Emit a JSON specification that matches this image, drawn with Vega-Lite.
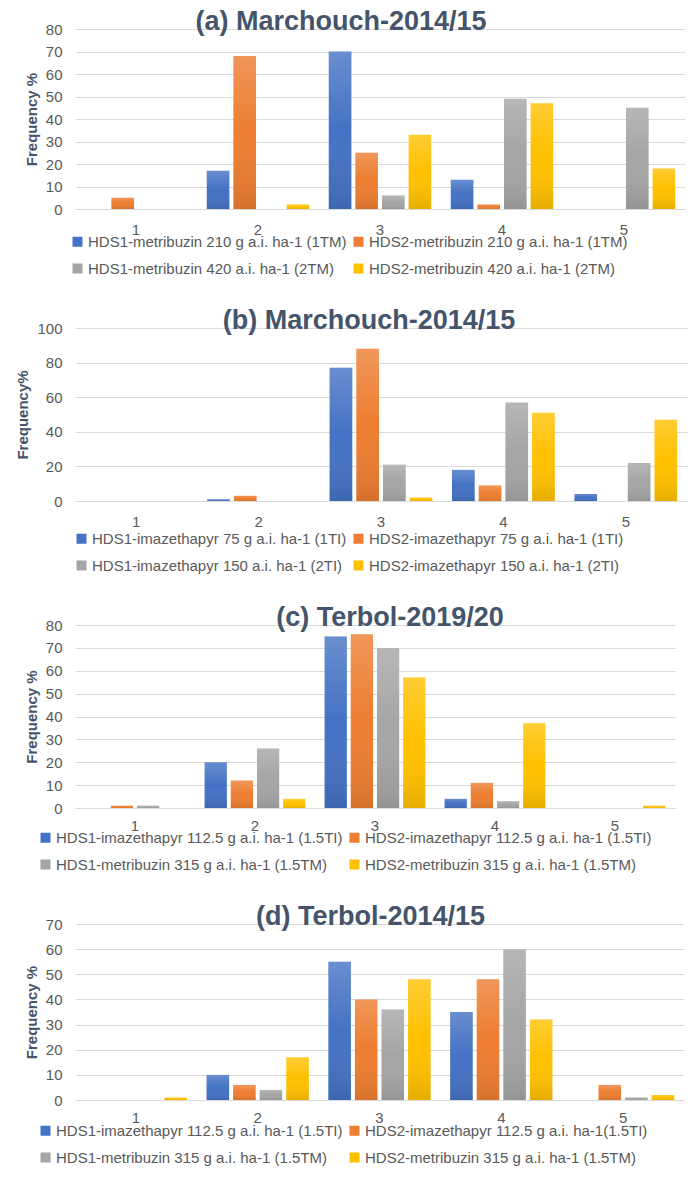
{
  "$schema": "https://vega.github.io/schema/vega-lite/v6.json",
  "background": "white",
  "padding": {"left": 15, "top": 8, "right": 5, "bottom": 5},
  "columns": 1,
  "align": "none",
  "spacing": 30,
  "config": {
    "font": "Liberation Sans",
    "view": {"stroke": null},
    "axis": {
      "labelFont": "Liberation Sans", "labelFontSize": 15, "labelColor": "#595959",
      "ticks": false, "domain": false, "gridColor": "#D9D9D9", "gridWidth": 1,
      "titleFont": "Liberation Sans", "titleFontSize": 15, "titleFontWeight": "bold", "titleColor": "#44546A"
    },
    "axisX": {"grid": false, "domain": true, "domainColor": "#D9D9D9", "labelPadding": 13, "labelAngle": 0, "title": null},
    "axisY": {"labelPadding": 13, "titlePadding": 6},
    "legend": {
      "orient": "none", "direction": "horizontal", "columns": 2, "symbolType": "square", "symbolSize": 100, "symbolStrokeWidth": 0,
      "labelFont": "Liberation Sans", "labelFontSize": 15, "labelColor": "#595959", "labelLimit": 600,
      "columnPadding": 4, "rowPadding": 11, "labelOffset": 3
    },
    "title": {"font": "Liberation Sans", "fontSize": 27, "fontWeight": "bold", "color": "#44546A", "anchor": "middle", "offset": -14}
  },
  "resolve": {
    "scale": {"x": "independent", "y": "independent", "color": "independent", "xOffset": "independent"},
    "legend": {"color": "independent"}
  },
  "datasets": {
    "a": [
      {"cat": "1", "series": "HDS1-metribuzin 210 g a.i. ha-1 (1TM)", "value": 0},
      {"cat": "1", "series": "HDS2-metribuzin 210 g a.i. ha-1 (1TM)", "value": 5},
      {"cat": "1", "series": "HDS1-metribuzin 420  a.i. ha-1 (2TM)", "value": 0},
      {"cat": "1", "series": "HDS2-metribuzin 420  a.i. ha-1 (2TM)", "value": 0},
      {"cat": "2", "series": "HDS1-metribuzin 210 g a.i. ha-1 (1TM)", "value": 17},
      {"cat": "2", "series": "HDS2-metribuzin 210 g a.i. ha-1 (1TM)", "value": 68},
      {"cat": "2", "series": "HDS1-metribuzin 420  a.i. ha-1 (2TM)", "value": 0},
      {"cat": "2", "series": "HDS2-metribuzin 420  a.i. ha-1 (2TM)", "value": 2},
      {"cat": "3", "series": "HDS1-metribuzin 210 g a.i. ha-1 (1TM)", "value": 70},
      {"cat": "3", "series": "HDS2-metribuzin 210 g a.i. ha-1 (1TM)", "value": 25},
      {"cat": "3", "series": "HDS1-metribuzin 420  a.i. ha-1 (2TM)", "value": 6},
      {"cat": "3", "series": "HDS2-metribuzin 420  a.i. ha-1 (2TM)", "value": 33},
      {"cat": "4", "series": "HDS1-metribuzin 210 g a.i. ha-1 (1TM)", "value": 13},
      {"cat": "4", "series": "HDS2-metribuzin 210 g a.i. ha-1 (1TM)", "value": 2},
      {"cat": "4", "series": "HDS1-metribuzin 420  a.i. ha-1 (2TM)", "value": 49},
      {"cat": "4", "series": "HDS2-metribuzin 420  a.i. ha-1 (2TM)", "value": 47},
      {"cat": "5", "series": "HDS1-metribuzin 210 g a.i. ha-1 (1TM)", "value": 0},
      {"cat": "5", "series": "HDS2-metribuzin 210 g a.i. ha-1 (1TM)", "value": 0},
      {"cat": "5", "series": "HDS1-metribuzin 420  a.i. ha-1 (2TM)", "value": 45},
      {"cat": "5", "series": "HDS2-metribuzin 420  a.i. ha-1 (2TM)", "value": 18}
    ],
    "b": [
      {"cat": "1", "series": "HDS1-imazethapyr 75 g a.i. ha-1 (1TI)", "value": 0},
      {"cat": "1", "series": "HDS2-imazethapyr 75 g a.i. ha-1 (1TI)", "value": 0},
      {"cat": "1", "series": "HDS1-imazethapyr 150  a.i. ha-1 (2TI)", "value": 0},
      {"cat": "1", "series": "HDS2-imazethapyr 150  a.i. ha-1 (2TI)", "value": 0},
      {"cat": "2", "series": "HDS1-imazethapyr 75 g a.i. ha-1 (1TI)", "value": 1},
      {"cat": "2", "series": "HDS2-imazethapyr 75 g a.i. ha-1 (1TI)", "value": 3},
      {"cat": "2", "series": "HDS1-imazethapyr 150  a.i. ha-1 (2TI)", "value": 0},
      {"cat": "2", "series": "HDS2-imazethapyr 150  a.i. ha-1 (2TI)", "value": 0},
      {"cat": "3", "series": "HDS1-imazethapyr 75 g a.i. ha-1 (1TI)", "value": 77},
      {"cat": "3", "series": "HDS2-imazethapyr 75 g a.i. ha-1 (1TI)", "value": 88},
      {"cat": "3", "series": "HDS1-imazethapyr 150  a.i. ha-1 (2TI)", "value": 21},
      {"cat": "3", "series": "HDS2-imazethapyr 150  a.i. ha-1 (2TI)", "value": 2},
      {"cat": "4", "series": "HDS1-imazethapyr 75 g a.i. ha-1 (1TI)", "value": 18},
      {"cat": "4", "series": "HDS2-imazethapyr 75 g a.i. ha-1 (1TI)", "value": 9},
      {"cat": "4", "series": "HDS1-imazethapyr 150  a.i. ha-1 (2TI)", "value": 57},
      {"cat": "4", "series": "HDS2-imazethapyr 150  a.i. ha-1 (2TI)", "value": 51},
      {"cat": "5", "series": "HDS1-imazethapyr 75 g a.i. ha-1 (1TI)", "value": 4},
      {"cat": "5", "series": "HDS2-imazethapyr 75 g a.i. ha-1 (1TI)", "value": 0},
      {"cat": "5", "series": "HDS1-imazethapyr 150  a.i. ha-1 (2TI)", "value": 22},
      {"cat": "5", "series": "HDS2-imazethapyr 150  a.i. ha-1 (2TI)", "value": 47}
    ],
    "c": [
      {"cat": "1", "series": "HDS1-imazethapyr 112.5 g a.i. ha-1 (1.5TI)", "value": 0},
      {"cat": "1", "series": "HDS2-imazethapyr 112.5 g a.i. ha-1 (1.5TI)", "value": 1},
      {"cat": "1", "series": "HDS1-metribuzin 315 g a.i. ha-1 (1.5TM)", "value": 1},
      {"cat": "1", "series": "HDS2-metribuzin 315 g a.i. ha-1 (1.5TM)", "value": 0},
      {"cat": "2", "series": "HDS1-imazethapyr 112.5 g a.i. ha-1 (1.5TI)", "value": 20},
      {"cat": "2", "series": "HDS2-imazethapyr 112.5 g a.i. ha-1 (1.5TI)", "value": 12},
      {"cat": "2", "series": "HDS1-metribuzin 315 g a.i. ha-1 (1.5TM)", "value": 26},
      {"cat": "2", "series": "HDS2-metribuzin 315 g a.i. ha-1 (1.5TM)", "value": 4},
      {"cat": "3", "series": "HDS1-imazethapyr 112.5 g a.i. ha-1 (1.5TI)", "value": 75},
      {"cat": "3", "series": "HDS2-imazethapyr 112.5 g a.i. ha-1 (1.5TI)", "value": 76},
      {"cat": "3", "series": "HDS1-metribuzin 315 g a.i. ha-1 (1.5TM)", "value": 70},
      {"cat": "3", "series": "HDS2-metribuzin 315 g a.i. ha-1 (1.5TM)", "value": 57},
      {"cat": "4", "series": "HDS1-imazethapyr 112.5 g a.i. ha-1 (1.5TI)", "value": 4},
      {"cat": "4", "series": "HDS2-imazethapyr 112.5 g a.i. ha-1 (1.5TI)", "value": 11},
      {"cat": "4", "series": "HDS1-metribuzin 315 g a.i. ha-1 (1.5TM)", "value": 3},
      {"cat": "4", "series": "HDS2-metribuzin 315 g a.i. ha-1 (1.5TM)", "value": 37},
      {"cat": "5", "series": "HDS1-imazethapyr 112.5 g a.i. ha-1 (1.5TI)", "value": 0},
      {"cat": "5", "series": "HDS2-imazethapyr 112.5 g a.i. ha-1 (1.5TI)", "value": 0},
      {"cat": "5", "series": "HDS1-metribuzin 315 g a.i. ha-1 (1.5TM)", "value": 0},
      {"cat": "5", "series": "HDS2-metribuzin 315 g a.i. ha-1 (1.5TM)", "value": 1}
    ],
    "d": [
      {"cat": "1", "series": "HDS1-imazethapyr 112.5 g a.i. ha-1 (1.5TI)", "value": 0},
      {"cat": "1", "series": "HDS2-imazethapyr 112.5 g a.i. ha-1(1.5TI)", "value": 0},
      {"cat": "1", "series": "HDS1-metribuzin 315 g a.i. ha-1 (1.5TM)", "value": 0},
      {"cat": "1", "series": "HDS2-metribuzin 315 g a.i. ha-1 (1.5TM)", "value": 1},
      {"cat": "2", "series": "HDS1-imazethapyr 112.5 g a.i. ha-1 (1.5TI)", "value": 10},
      {"cat": "2", "series": "HDS2-imazethapyr 112.5 g a.i. ha-1(1.5TI)", "value": 6},
      {"cat": "2", "series": "HDS1-metribuzin 315 g a.i. ha-1 (1.5TM)", "value": 4},
      {"cat": "2", "series": "HDS2-metribuzin 315 g a.i. ha-1 (1.5TM)", "value": 17},
      {"cat": "3", "series": "HDS1-imazethapyr 112.5 g a.i. ha-1 (1.5TI)", "value": 55},
      {"cat": "3", "series": "HDS2-imazethapyr 112.5 g a.i. ha-1(1.5TI)", "value": 40},
      {"cat": "3", "series": "HDS1-metribuzin 315 g a.i. ha-1 (1.5TM)", "value": 36},
      {"cat": "3", "series": "HDS2-metribuzin 315 g a.i. ha-1 (1.5TM)", "value": 48},
      {"cat": "4", "series": "HDS1-imazethapyr 112.5 g a.i. ha-1 (1.5TI)", "value": 35},
      {"cat": "4", "series": "HDS2-imazethapyr 112.5 g a.i. ha-1(1.5TI)", "value": 48},
      {"cat": "4", "series": "HDS1-metribuzin 315 g a.i. ha-1 (1.5TM)", "value": 60},
      {"cat": "4", "series": "HDS2-metribuzin 315 g a.i. ha-1 (1.5TM)", "value": 32},
      {"cat": "5", "series": "HDS1-imazethapyr 112.5 g a.i. ha-1 (1.5TI)", "value": 0},
      {"cat": "5", "series": "HDS2-imazethapyr 112.5 g a.i. ha-1(1.5TI)", "value": 6},
      {"cat": "5", "series": "HDS1-metribuzin 315 g a.i. ha-1 (1.5TM)", "value": 1},
      {"cat": "5", "series": "HDS2-metribuzin 315 g a.i. ha-1 (1.5TM)", "value": 2}
    ]
  },
  "concat": [
    {
      "title": {"text": "(a) Marchouch-2014/15", "dx": -39},
      "width": 610, "height": 180,
      "data": {"name": "a"},
      "encoding": {
        "x": {"field": "cat", "type": "ordinal", "scale": {"paddingInner": 0.16, "paddingOuter": 0.08}},
        "xOffset": {"field": "series", "sort": null, "scale": {"paddingInner": 0.15, "paddingOuter": 0}},
        "y": {"field": "value", "type": "quantitative", "scale": {"domain": [0, 80], "nice": false},
              "axis": {"title": "Frequency %", "values": [0, 10, 20, 30, 40, 50, 60, 70, 80]}}
      },
      "layer": [
        {"mark": "bar",
         "encoding": {"color": {"field": "series", "type": "nominal", "sort": null,
           "scale": {"range": ["#4472C4", "#ED7D31", "#A5A5A5", "#FFC000"]},
           "legend": {"title": null, "legendX": -5, "legendY": 205}}}},
        {"mark": {"type": "bar", "fill": {"gradient": "linear", "x1": 0, "y1": 0, "x2": 0, "y2": 1,
          "stops": [{"offset": 0, "color": "rgba(255,255,255,0.2)"}, {"offset": 0.5, "color": "rgba(255,255,255,0)"}, {"offset": 1, "color": "rgba(0,0,0,0.1)"}]}}}
      ]
    },
    {
      "title": {"text": "(b) Marchouch-2014/15", "dx": -12},
      "width": 612, "height": 173,
      "data": {"name": "b"},
      "encoding": {
        "x": {"field": "cat", "type": "ordinal", "scale": {"paddingInner": 0.16, "paddingOuter": 0.08}},
        "xOffset": {"field": "series", "sort": null, "scale": {"paddingInner": 0.15, "paddingOuter": 0}},
        "y": {"field": "value", "type": "quantitative", "scale": {"domain": [0, 100], "nice": false},
              "axis": {"title": "Frequency%", "values": [0, 20, 40, 60, 80, 100]}}
      },
      "layer": [
        {"mark": "bar",
         "encoding": {"color": {"field": "series", "type": "nominal", "sort": null,
           "scale": {"range": ["#4472C4", "#ED7D31", "#A5A5A5", "#FFC000"]},
           "legend": {"title": null, "legendX": -1, "legendY": 203}}}},
        {"mark": {"type": "bar", "fill": {"gradient": "linear", "x1": 0, "y1": 0, "x2": 0, "y2": 1,
          "stops": [{"offset": 0, "color": "rgba(255,255,255,0.2)"}, {"offset": 0.5, "color": "rgba(255,255,255,0)"}, {"offset": 1, "color": "rgba(0,0,0,0.1)"}]}}}
      ]
    },
    {
      "title": {"text": "(c) Terbol-2019/20", "dx": 15},
      "width": 600, "height": 183,
      "data": {"name": "c"},
      "encoding": {
        "x": {"field": "cat", "type": "ordinal", "scale": {"paddingInner": 0.16, "paddingOuter": 0.08}, "axis": {"labelPadding": 10}},
        "xOffset": {"field": "series", "sort": null, "scale": {"paddingInner": 0.15, "paddingOuter": 0}},
        "y": {"field": "value", "type": "quantitative", "scale": {"domain": [0, 80], "nice": false},
              "axis": {"title": "Frequency %", "values": [0, 10, 20, 30, 40, 50, 60, 70, 80]}}
      },
      "layer": [
        {"mark": "bar",
         "encoding": {"color": {"field": "series", "type": "nominal", "sort": null,
           "scale": {"range": ["#4472C4", "#ED7D31", "#A5A5A5", "#FFC000"]},
           "legend": {"title": null, "legendX": -37, "legendY": 205}}}},
        {"mark": {"type": "bar", "fill": {"gradient": "linear", "x1": 0, "y1": 0, "x2": 0, "y2": 1,
          "stops": [{"offset": 0, "color": "rgba(255,255,255,0.2)"}, {"offset": 0.5, "color": "rgba(255,255,255,0)"}, {"offset": 1, "color": "rgba(0,0,0,0.1)"}]}}}
      ]
    },
    {
      "title": {"text": "(d) Terbol-2014/15", "dx": -9},
      "width": 609, "height": 176,
      "data": {"name": "d"},
      "encoding": {
        "x": {"field": "cat", "type": "ordinal", "scale": {"paddingInner": 0.16, "paddingOuter": 0.08}, "axis": {"labelPadding": 10}},
        "xOffset": {"field": "series", "sort": null, "scale": {"paddingInner": 0.15, "paddingOuter": 0}},
        "y": {"field": "value", "type": "quantitative", "scale": {"domain": [0, 70], "nice": false},
              "axis": {"title": "Frequency %", "values": [0, 10, 20, 30, 40, 50, 60, 70]}}
      },
      "layer": [
        {"mark": "bar",
         "encoding": {"color": {"field": "series", "type": "nominal", "sort": null,
           "scale": {"range": ["#4472C4", "#ED7D31", "#A5A5A5", "#FFC000"]},
           "legend": {"title": null, "legendX": -37, "legendY": 199}}}},
        {"mark": {"type": "bar", "fill": {"gradient": "linear", "x1": 0, "y1": 0, "x2": 0, "y2": 1,
          "stops": [{"offset": 0, "color": "rgba(255,255,255,0.2)"}, {"offset": 0.5, "color": "rgba(255,255,255,0)"}, {"offset": 1, "color": "rgba(0,0,0,0.1)"}]}}}
      ]
    }
  ]
}
